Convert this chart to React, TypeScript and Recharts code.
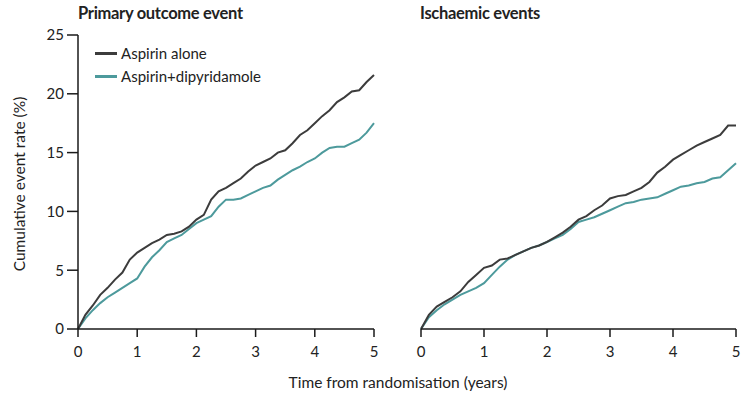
import { LineChart, Line, XAxis, YAxis } from "recharts";

const years = [
  0, 0.125, 0.25, 0.375, 0.5, 0.625, 0.75, 0.875, 1, 1.125, 1.25, 1.375, 1.5, 1.625, 1.75, 1.875,
  2, 2.125, 2.25, 2.375, 2.5, 2.625, 2.75, 2.875, 3, 3.125, 3.25, 3.375, 3.5, 3.625, 3.75, 3.875,
  4, 4.125, 4.25, 4.375, 4.5, 4.625, 4.75, 4.875, 5,
];

// primary outcome event (%)
const primaryAspirin = [
  0, 1.2, 2.0, 2.9, 3.5, 4.2, 4.8, 5.9, 6.5, 6.9, 7.3, 7.6, 8.0, 8.1, 8.3, 8.7,
  9.3, 9.7, 11.0, 11.7, 12.0, 12.4, 12.8, 13.4, 13.9, 14.2, 14.5, 15.0, 15.2, 15.8, 16.5, 16.9,
  17.5, 18.1, 18.6, 19.3, 19.7, 20.2, 20.3, 21.0, 21.6,
];
const primaryCombo = [
  0, 0.9, 1.6, 2.2, 2.7, 3.1, 3.5, 3.9, 4.3, 5.3, 6.1, 6.7, 7.4, 7.7, 8.0, 8.5,
  9.0, 9.3, 9.6, 10.4, 11.0, 11.0, 11.1, 11.4, 11.7, 12.0, 12.2, 12.7, 13.1, 13.5, 13.8, 14.2,
  14.5, 15.0, 15.4, 15.5, 15.5, 15.8, 16.1, 16.7, 17.5,
];

// ischaemic events (%)
const ischAspirin = [
  0, 1.2, 1.9, 2.3, 2.7, 3.2, 4.0, 4.6, 5.2, 5.4, 5.9, 6.0, 6.3, 6.6, 6.9, 7.1,
  7.4, 7.8, 8.2, 8.7, 9.3, 9.6, 10.1, 10.5, 11.1, 11.3, 11.4, 11.7, 12.0, 12.5, 13.3, 13.8,
  14.4, 14.8, 15.2, 15.6, 15.9, 16.2, 16.5, 17.3, 17.3,
];
const ischCombo = [
  0, 1.0, 1.6, 2.1, 2.5, 2.9, 3.2, 3.5, 3.9, 4.6, 5.3, 5.9, 6.3, 6.6, 6.9, 7.1,
  7.4, 7.7, 8.0, 8.5, 9.1, 9.3, 9.5, 9.8, 10.1, 10.4, 10.7, 10.8, 11.0, 11.1, 11.2, 11.5,
  11.8, 12.1, 12.2, 12.4, 12.5, 12.8, 12.9, 13.5, 14.1,
];

const xTicks = [0, 1, 2, 3, 4, 5];
const yTicks = [0, 5, 10, 15, 20, 25];

const DARK = "#3c3c3c";
const TEAL = "#4d9a9c";
const FONT = "Lato, 'Liberation Sans', sans-serif";
const AXIS = "#1a1a1a";

const primaryData = years.map((t, i) => ({ t, a: primaryAspirin[i], c: primaryCombo[i] }));
const ischData = years.map((t, i) => ({ t, a: ischAspirin[i], c: ischCombo[i] }));

const tickStyle = { fontSize: 15, fill: "#222", fontFamily: FONT };

function Panel({ data, showY }: { data: typeof primaryData; showY: boolean }) {
  return (
    <LineChart
      width={showY ? 390 : 351}
      height={395}
      data={data}
      margin={showY ? { top: 35, right: 16, bottom: 36, left: 0 } : { top: 35, right: 5, bottom: 36, left: 31 }}
    >
      <XAxis
        dataKey="t"
        type="number"
        domain={[0, 5]}
        ticks={xTicks}
        height={30}
        stroke={AXIS}
        strokeWidth={1.5}
        tickSize={8}
        tickMargin={9}
        tick={tickStyle}
      />
      <YAxis
        hide={!showY}
        width={78}
        domain={[0, 25]}
        ticks={yTicks}
        stroke={AXIS}
        strokeWidth={1.5}
        tickSize={11}
        tickMargin={3}
        tick={tickStyle}
      />
      <Line type="linear" dataKey="c" stroke={TEAL} strokeWidth={2} dot={false} isAnimationActive={false} />
      <Line type="linear" dataKey="a" stroke={DARK} strokeWidth={2} dot={false} isAnimationActive={false} />
    </LineChart>
  );
}

export default function App() {
  return (
    <div style={{ position: "absolute", left: 0, top: 0, width: 741, height: 395, background: "#fff", fontFamily: FONT, color: "#222" }}>
      <div style={{ position: "absolute", left: 0, top: 0 }}>
        <Panel data={primaryData} showY />
      </div>
      <div style={{ position: "absolute", left: 390, top: 0 }}>
        <Panel data={ischData} showY={false} />
      </div>
      <div style={{ position: "absolute", left: 78, top: 3, fontSize: 16.5, fontWeight: 700, letterSpacing: -0.3 }}>
        Primary outcome event
      </div>
      <div style={{ position: "absolute", left: 420, top: 3, fontSize: 16.5, fontWeight: 700, letterSpacing: -0.3 }}>
        Ischaemic events
      </div>
      <div
        style={{
          position: "absolute",
          left: 19,
          top: 184,
          fontSize: 15.5,
          whiteSpace: "nowrap",
          transform: "translate(-50%, -50%) rotate(-90deg)",
        }}
      >
        Cumulative event rate (%)
      </div>
      <div style={{ position: "absolute", left: 398, top: 373, fontSize: 15.5, transform: "translateX(-50%)", whiteSpace: "nowrap" }}>
        Time from randomisation (years)
      </div>
      {[
        { name: "Aspirin alone", color: DARK, top: 44 },
        { name: "Aspirin+dipyridamole", color: TEAL, top: 67 },
      ].map((d) => (
        <div key={d.name} style={{ position: "absolute", left: 95, top: d.top, display: "flex", alignItems: "center", fontSize: 15 }}>
          <span style={{ display: "inline-block", width: 22, height: 3, background: d.color, marginRight: 4 }} />
          <span>{d.name}</span>
        </div>
      ))}
    </div>
  );
}
